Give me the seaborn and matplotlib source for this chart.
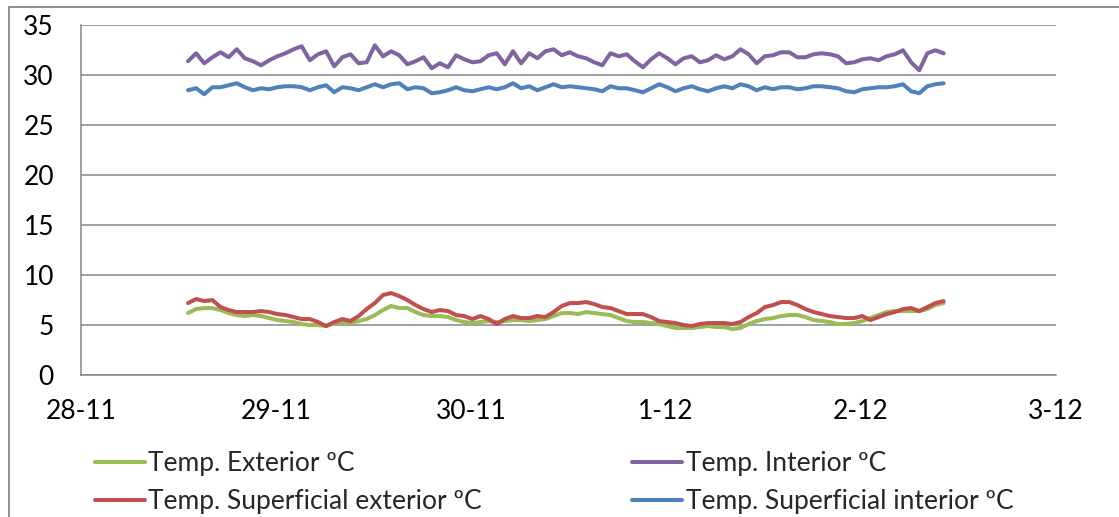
import pandas as pd
import seaborn as sns
import matplotlib.pyplot as plt
import matplotlib.dates as mdates
from matplotlib.patches import Rectangle
from matplotlib.ticker import FuncFormatter, MultipleLocator

# hourly readings, 28-11 13:10 -> 2-12 10:10
start = pd.Timestamp('2012-11-28 13:10')
n_hours = 94

temp_exterior = [
    6.2, 6.6, 6.7, 6.7, 6.5, 6.2, 6.0, 5.9, 6.0, 5.9, 5.7, 5.5, 5.4, 5.3, 5.1, 5.0,
    5.0, 4.9, 5.2, 5.2, 5.2, 5.4, 5.6, 6.0, 6.5, 6.9, 6.7, 6.7, 6.3, 6.0, 5.9, 5.9,
    5.8, 5.5, 5.3, 5.2, 5.3, 5.4,
    5.3, 5.4, 5.5, 5.5, 5.4, 5.5, 5.6, 5.9, 6.2, 6.2, 6.1, 6.3, 6.2, 6.1, 6.0, 5.7,
    5.4, 5.3, 5.3, 5.2, 5.1, 4.9, 4.7, 4.7, 4.7, 4.8, 4.9, 4.8, 4.8, 4.6, 4.7, 5.1,
    5.4, 5.6, 5.7, 5.9,
    6.0, 6.0, 5.8, 5.5, 5.4, 5.3, 5.1, 5.1, 5.2, 5.4, 5.7, 6.0, 6.3, 6.4, 6.4, 6.4,
    6.4, 6.6, 7.0, 7.2,
]
temp_interior = [
    31.4, 32.2, 31.2, 31.8, 32.3, 31.8, 32.6, 31.7, 31.4, 31.0, 31.5, 31.9, 32.2, 32.6,
    32.9, 31.5, 32.1, 32.4, 30.9, 31.8, 32.1, 31.2, 31.3, 33.0, 31.9, 32.4, 32.0, 31.1,
    31.4, 31.8, 30.7, 31.2, 30.8, 32.0, 31.6, 31.3, 31.4,
    32.0, 32.2, 31.1, 32.4, 31.2, 32.2, 31.7, 32.4, 32.6, 32.0, 32.3, 31.9, 31.7, 31.3,
    31.0, 32.2, 31.9, 32.1, 31.4, 30.8, 31.6, 32.2, 31.7, 31.1, 31.7, 31.9, 31.3, 31.5,
    32.0, 31.6, 31.9, 32.6, 32.1, 31.2, 31.9, 32.0, 32.3,
    32.3, 31.8, 31.8, 32.1, 32.2, 32.1, 31.9, 31.2, 31.3, 31.6, 31.7, 31.5, 31.9, 32.1,
    32.5, 31.3, 30.5, 32.2, 32.5, 32.2,
]
temp_sup_exterior = [
    7.2, 7.6, 7.4, 7.5, 6.8, 6.5, 6.3, 6.3, 6.3, 6.4, 6.3, 6.1, 6.0, 5.8, 5.6, 5.6,
    5.3, 4.9, 5.3, 5.6, 5.4, 5.9, 6.6, 7.2, 8.0, 8.2, 7.9, 7.5, 7.0, 6.6, 6.3, 6.5,
    6.4, 6.0, 5.9, 5.6, 5.9, 5.6,
    5.1, 5.6, 5.9, 5.7, 5.7, 5.9, 5.8, 6.3, 6.9, 7.2, 7.2, 7.3, 7.1, 6.8, 6.7, 6.4,
    6.1, 6.1, 6.1, 5.8, 5.4, 5.3, 5.2, 5.0, 4.9, 5.1, 5.2, 5.2, 5.2, 5.1, 5.3, 5.8,
    6.2, 6.8, 7.0, 7.3,
    7.3, 7.0, 6.6, 6.3, 6.1, 5.9, 5.8, 5.7, 5.7, 5.9, 5.5, 5.8, 6.1, 6.3, 6.6, 6.7,
    6.4, 6.8, 7.2, 7.4,
]
temp_sup_interior = [
    28.5, 28.7, 28.1, 28.8, 28.8, 29.0, 29.2, 28.8, 28.5, 28.7, 28.6, 28.8, 28.9, 28.9,
    28.8, 28.5, 28.8, 29.0, 28.3, 28.8, 28.7, 28.5, 28.8, 29.1, 28.8, 29.1, 29.2, 28.6,
    28.8, 28.7, 28.2, 28.3, 28.5, 28.8, 28.5, 28.4, 28.6,
    28.8, 28.6, 28.8, 29.2, 28.7, 28.9, 28.5, 28.8, 29.1, 28.8, 28.9, 28.8, 28.7, 28.6,
    28.4, 28.9, 28.7, 28.7, 28.5, 28.3, 28.7, 29.1, 28.8, 28.4, 28.7, 28.9, 28.6, 28.4,
    28.7, 28.9, 28.7, 29.1, 28.9, 28.5, 28.8, 28.6, 28.8,
    28.8, 28.6, 28.7, 28.9, 28.9, 28.8, 28.7, 28.4, 28.3, 28.6, 28.7, 28.8, 28.8, 28.9,
    29.1, 28.4, 28.2, 28.9, 29.1, 29.2,
]

series_names = ['Temp. Exterior ºC', 'Temp. Interior ºC',
                'Temp. Superficial exterior ºC', 'Temp. Superficial interior ºC']
series_colors = ['#9BBB59', '#8064A2', '#C0504D', '#4F81BD']

times = pd.date_range(start, periods=n_hours, freq='h')
frames = []
for name, vals in zip(series_names, [temp_exterior, temp_interior,
                                     temp_sup_exterior, temp_sup_interior]):
    frames.append(pd.DataFrame({'time': times, 'value': vals, 'serie': name}))
df = pd.concat(frames, ignore_index=True)

sns.set_style('white')
plt.rcParams['font.family'] = ['Lato', 'DejaVu Sans']

grey = '#868686'
fsize = 19
W, H = 1119, 517
fig = plt.figure(figsize=(W / 100, H / 100), dpi=100)
ax = fig.add_axes([81 / W, 1 - 375 / H, (1056 - 81) / W, (375 - 25.3) / H])

sns.lineplot(data=df, x='time', y='value', hue='serie', hue_order=series_names,
             palette=series_colors, linewidth=2.9, ax=ax, sort=False)

ax.set_xlim(pd.Timestamp('2012-11-28'), pd.Timestamp('2012-12-03'))
ax.set_ylim(0, 35)
ax.yaxis.set_major_locator(MultipleLocator(5))
ax.xaxis.set_major_locator(mdates.DayLocator())
ax.xaxis.set_major_formatter(
    FuncFormatter(lambda v, p: f"{mdates.num2date(v).day}-{mdates.num2date(v).month}"))
ax.set_xlabel('')
ax.set_ylabel('')

ax.grid(axis='y', color=grey, linewidth=1.1)
ax.set_axisbelow(True)
for s in ['top', 'right']:
    ax.spines[s].set_visible(False)
for s in ['left', 'bottom']:
    ax.spines[s].set_color(grey)
    ax.spines[s].set_linewidth(1.1)
ax.tick_params(axis='both', direction='out', color=grey, width=1.1, length=6.5,
               labelsize=fsize, labelcolor='black')
ax.tick_params(axis='x', pad=11)
ax.tick_params(axis='y', pad=13)

handles, labels = ax.get_legend_handles_labels()
ax.get_legend().remove()
order = [0, 2, 1, 3]
fig.legend([handles[i] for i in order], [labels[i] for i in order],
           loc='upper left', bbox_to_anchor=(95 / W, 1 - 451 / H), ncol=2,
           frameon=False, fontsize=fsize, handlelength=1.9, handletextpad=0.12,
           columnspacing=5.7, labelspacing=0.5, borderpad=0, borderaxespad=0)

# chart frame
fig.add_artist(Rectangle((9 / W, -0.05), 1.2, 1.05 - 7 / H,
                         transform=fig.transFigure, fill=False,
                         edgecolor=grey, linewidth=1.3))

fig.savefig('out.png', dpi=100)
